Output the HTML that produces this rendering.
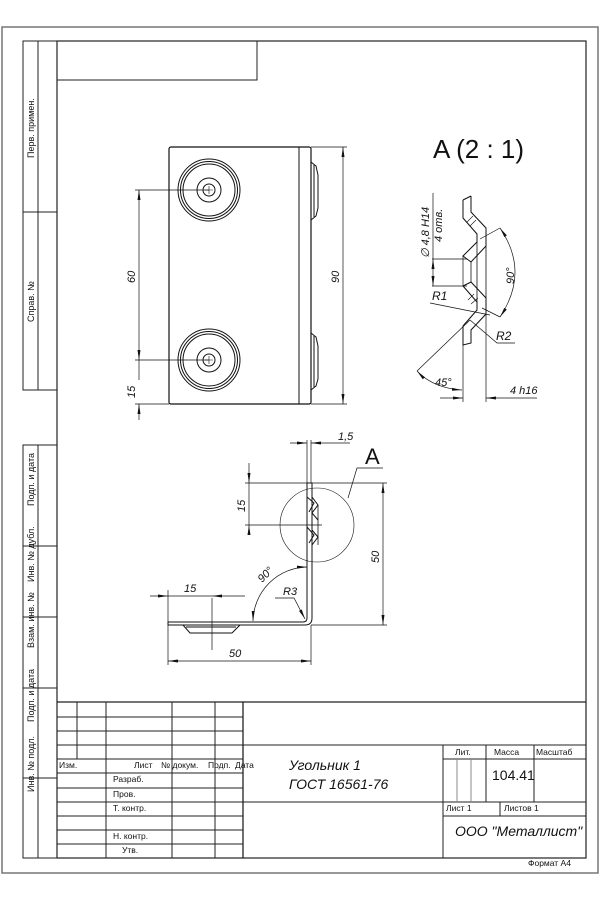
<!DOCTYPE html>
<html><head><meta charset="utf-8"><style>
html,body{margin:0;padding:0;background:#fff;}
svg{display:block;}
text{font-family:"Liberation Sans",sans-serif;fill:#111;}
.d{font-style:italic;}
</style></head><body>
<svg width="600" height="900" viewBox="0 0 600 900" xmlns="http://www.w3.org/2000/svg">
<defs>
<marker id="a" viewBox="0 0 10 4" refX="10" refY="2" markerWidth="10" markerHeight="4" orient="auto-start-reverse" markerUnits="userSpaceOnUse"><path d="M0,0.5 L10,2 L0,3.5z" fill="#111"/></marker>
</defs>
<rect x="2" y="27" width="596" height="846" fill="none" stroke="#777" stroke-width="1.5"/>
<rect x="57" y="41" width="529" height="817" fill="none" stroke="#222" stroke-width="1.2"/>
<path d="M57 80 H257 V41" fill="none" stroke="#222" stroke-width="1"/>
<g fill="none" stroke="#222" stroke-width="1">
<path d="M57 41 H23 V390 H57 M38 41 V390 M23 212 H57"/>
<path d="M57 445 H23 V858 H57 M38 445 V858 M23 546 H57 M23 617 H57 M23 688 H57 M23 778 H57"/>
</g>
<g font-size="9">
<text transform="translate(34,158) rotate(-90)">Перв. примен.</text>
<text transform="translate(34,322) rotate(-90)">Справ. №</text>
<text transform="translate(34,506) rotate(-90)">Подп. и дата</text>
<text transform="translate(34,582) rotate(-90)">Инв. № дубл.</text>
<text transform="translate(34,648) rotate(-90)">Взам. инв. №</text>
<text transform="translate(34,722) rotate(-90)">Подп. и дата</text>
<text transform="translate(34,792) rotate(-90)">Инв. № подл.</text>
</g>
<g fill="none" stroke="#222" stroke-width="1">
<path d="M57 702 H586" stroke-width="1.2"/>
<path d="M57 717 H243 M57 731 H243 M57 745 H586 M57 759 H243 M57 773 H243 M57 788 H243 M57 802 H586 M57 816 H243 M57 830 H243 M57 844 H243"/>
<path d="M443 759 H586 M443 816 H586"/>
<path d="M77 702 V759 M106 702 V858 M172 702 V858 M215 702 V858"/>
<path d="M243 702 V858" stroke-width="1.3"/>
<path d="M443 745 V858 M486 745 V802 M534 745 V802 M500 802 V816"/>
<path d="M457 759 V802 M471 759 V802" stroke="#888"/>
</g>
<g font-size="8.5">
<text x="59" y="768">Изм.</text>
<text x="134" y="768">Лист</text>
<text x="161" y="768">№ докум.</text>
<text x="208" y="768">Подп.</text>
<text x="235" y="768">Дата</text>
<text x="113" y="782">Разраб.</text>
<text x="113" y="797">Пров.</text>
<text x="113" y="811">Т. контр.</text>
<text x="113" y="839">Н. контр.</text>
<text x="122" y="853">Утв.</text>
<text x="455" y="755">Лит.</text>
<text x="494" y="755">Масса</text>
<text x="536" y="755">Масштаб</text>
<text x="446" y="811">Лист 1</text>
<text x="504" y="811">Листов 1</text>
<text x="528" y="866">Формат А4</text>
</g>
<text x="492" y="780" font-size="14">104.41</text>
<text class="d" x="289" y="770" font-size="14">Угольник 1</text>
<text class="d" x="289" y="789" font-size="14">ГОСТ 16561-76</text>
<text class="d" x="455" y="836" font-size="14">ООО "Металлист"</text>

<g fill="none" stroke="#111" stroke-width="1">
<rect x="169" y="147" width="142" height="257" rx="2" stroke-width="1.2"/>
<path d="M299 147 V404"/>
<path d="M311 162 L316 166 L318 175 V208 L316 216 L311 220 M314 165 V217"/>
<path d="M311 333 L316 337 L318 346 V379 L316 386 L311 390 M314 336 V387"/>
<circle cx="209" cy="190" r="31"/><circle cx="209" cy="190" r="28.5"/><circle cx="209" cy="190" r="26"/><circle cx="209" cy="190" r="12"/><circle cx="209" cy="190" r="6"/>
<circle cx="209" cy="360" r="31"/><circle cx="209" cy="360" r="28.5"/><circle cx="209" cy="360" r="26"/><circle cx="209" cy="360" r="12"/><circle cx="209" cy="360" r="6"/>
<path d="M205 190 H213 M209 186 V194 M205 360 H213 M209 356 V364" stroke-width="0.6"/>
</g>
<g fill="none" stroke="#111" stroke-width="0.7">
<path d="M135 190 H209 M135 360 H209 M135 404 H169 M311 147 H347 M311 404 H347"/>
<path d="M139 190 V360" marker-start="url(#a)" marker-end="url(#a)"/>
<path d="M139 404 V420" marker-start="url(#a)"/>
<path d="M139 360 V380"/>
<path d="M343 147 V404" marker-start="url(#a)" marker-end="url(#a)"/>
</g>
<text class="d" font-size="11" transform="translate(135,283) rotate(-90)">60</text>
<text class="d" font-size="11" transform="translate(135,398) rotate(-90)">15</text>
<text class="d" font-size="11" transform="translate(339,283) rotate(-90)">90</text>

<!-- detail A -->
<text x="433" y="158" font-size="26">A (2 : 1)</text>
<g fill="none" stroke="#111" stroke-width="1">
<path d="M463 200 L471 196 M463 200 V218 L477 234 V242 L463 256 L471 262 L486 246 V228 L471 212 V196"/>
<path d="M463 286 L471 282 L486 298 V314 L471 330 V343 L463 345 V326 L477 310 V302 L463 286"/>
<path d="M477 242 V302 M486 246 V298 M471 262 V282" stroke-width="0.8"/>
<path d="M467 222 L473 216 M470 226 L476 220 M468 300 L474 294 M471 304 L478 298" stroke-width="0.6"/>
</g>
<g fill="none" stroke="#111" stroke-width="0.7">
<path d="M463 256 V286 M463 345 V402 M486 314 V402 M486 228 V246"/>
<path d="M440 398 H463" marker-end="url(#a)"/>
<path d="M537 398 H486" marker-end="url(#a)"/>
<path d="M432 259 H467 M432 286 H467"/>
<path d="M433 193 V259"/>
<path d="M433 259 V286" marker-start="url(#a)" marker-end="url(#a)"/>
<path d="M480 239 L500 228 M482 308 L500 317"/>
<path d="M500 228 Q530 272 500 317" marker-start="url(#a)" marker-end="url(#a)"/>
<path d="M430 303 L490 315 M470 320 L497 343 L515 343"/>
<path d="M470 320 L417 371"/>
<path d="M417 371 Q433 388 462 390" marker-start="url(#a)" marker-end="url(#a)"/>
</g>
<text class="d" font-size="11" transform="translate(429,258) rotate(-90)">∅ 4,8 H14</text>
<text class="d" font-size="11" transform="translate(442,242) rotate(-90)">4 отв.</text>
<text class="d" font-size="11" transform="translate(514,284) rotate(-90)">90°</text>
<text class="d" font-size="12" x="432" y="300">R1</text>
<text class="d" font-size="12" x="496" y="340">R2</text>
<text class="d" font-size="11" x="435" y="386">45°</text>
<text class="d" font-size="11" x="510" y="394">4  h16</text>

<g fill="none" stroke="#111" stroke-width="1">
<path d="M307 483 V618 Q307 622 303 622 H168 V625 H305 Q312 625 312 618 V483 Z"/>
<path d="M312 497 L318 505 L312 513 L318 520 M312 530 L318 537 L312 545"/>
<path d="M307 497 L314 503 L309 512 M307 527 L314 535 L309 543"/>
<path d="M318 505 V545" stroke-width="0.8"/>
<path d="M183 625 L190 633 H232 L240 625 M186 627 H236"/>
<circle cx="317" cy="525" r="37" stroke-width="0.6"/>
</g>
<g fill="none" stroke="#111" stroke-width="0.7">
<path d="M307 440 V483 M311 440 V483"/>
<path d="M290 443 H307" marker-end="url(#a)"/>
<path d="M350 443 H311" marker-end="url(#a)"/>
<path d="M245 483 H387 M245 525 H322 M311 625 H387 M212 598 V650 M168 590 V665 M311 625 V665"/>
<path d="M249 463 V483" marker-end="url(#a)"/>
<path d="M249 535 V525" marker-end="url(#a)"/>
<path d="M249 483 V525"/>
<path d="M383 483 V625" marker-start="url(#a)" marker-end="url(#a)"/>
<path d="M150 596 H168" marker-end="url(#a)"/>
<path d="M245 596 H212" marker-end="url(#a)"/>
<path d="M168 596 H212"/>
<path d="M168 661 H311" marker-start="url(#a)" marker-end="url(#a)"/>
<path d="M253 621 A55 55 0 0 1 307 567" marker-start="url(#a)" marker-end="url(#a)"/>
<path d="M275 598 H294 L305 619" marker-end="url(#a)"/>
<path d="M383 468 H357 L348 498"/>
</g>
<text x="365" y="464" font-size="22">A</text>
<text class="d" font-size="11" x="338" y="440">1,5</text>
<text class="d" font-size="11" transform="translate(245,512) rotate(-90)">15</text>
<text class="d" font-size="11" transform="translate(379,563) rotate(-90)">50</text>
<text class="d" font-size="11" x="184" y="592">15</text>
<text class="d" font-size="11" x="229" y="657">50</text>
<text class="d" font-size="11" x="283" y="595">R3</text>
<text class="d" font-size="11" transform="translate(262,583) rotate(-45)">90°</text>
</svg>
</body></html>
